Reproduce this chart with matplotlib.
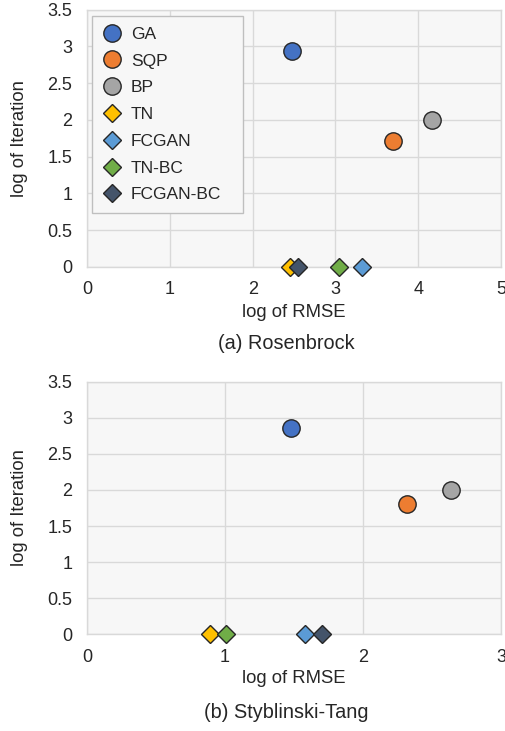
import matplotlib
matplotlib.use("Agg")
from matplotlib import pyplot as plt

plt.rcParams['font.family'] = ['Liberation Sans', 'DejaVu Sans']

methods = ['GA', 'SQP', 'BP', 'TN', 'FCGAN', 'TN-BC', 'FCGAN-BC']
markers = ['o', 'o', 'o', 'D', 'D', 'D', 'D']
colors = ['#4472C4', '#ED7D31', '#A5A5A5', '#FFC000', '#5B9BD5', '#70AD47', '#44546A']

# Rosenbrock
rosen_rmse = [2.47, 3.70, 4.17, 2.45, 3.32, 3.04, 2.55]
rosen_iter = [2.94, 1.71, 2.00, 0.0, 0.0, 0.0, 0.0]

# Styblinski-Tang
styb_rmse = [1.48, 2.32, 2.64, 0.89, 1.58, 1.01, 1.70]
styb_iter = [2.86, 1.80, 2.00, 0.0, 0.0, 0.0, 0.0]

yticks = [0, 0.5, 1, 1.5, 2, 2.5, 3, 3.5]
ytick_labels = ['0', '0.5', '1', '1.5', '2', '2.5', '3', '3.5']

TEXT = '#262626'
GRID = '#d9d9d9'


def style_axes(ax, xmax):
    ax.set_facecolor('#f7f7f7')
    ax.set_xlim(0, xmax)
    ax.set_ylim(0, 3.5)
    ax.set_xticks(range(xmax + 1))
    ax.set_yticks(yticks)
    ax.set_yticklabels(ytick_labels)
    ax.grid(True, color=GRID, linewidth=1.0)
    ax.set_axisbelow(True)
    for s in ax.spines.values():
        s.set_color(GRID)
        s.set_linewidth(1.0)
    ax.tick_params(length=0, labelsize=13, colors=TEXT, pad=10.5)
    ax.set_xlabel('log of RMSE', fontsize=13.3, color=TEXT, va='center')
    ax.set_ylabel('log of Iteration', fontsize=13.3, color=TEXT, va='center')
    ax.xaxis.set_label_coords(0.499, -0.176)
    ax.yaxis.set_label_coords(-0.164, 0.5)


def plot_points(ax, rmse, iters):
    for name, m, c, x, y in zip(methods, markers, colors, rmse, iters):
        size = 12.5 if m == 'o' else 9
        ax.plot(x, y, m, color=c, markersize=size, markeredgecolor='#262626',
                markeredgewidth=1.0, label=name, clip_on=False, zorder=3)


fig = plt.figure(figsize=(5.05, 7.31), dpi=100)
ax1 = fig.add_axes([0.1723, 0.635, 0.820, 0.352])
ax2 = fig.add_axes([0.1723, 0.1323, 0.820, 0.3455])

plot_points(ax1, rosen_rmse, rosen_iter)
style_axes(ax1, 5)
# legend box stretched to a fixed width with mode='expand'
leg = ax1.legend(loc='upper left', fontsize=12.5, frameon=True, fancybox=False,
                 edgecolor='#bfbfbf', facecolor='#f7f7f7', framealpha=1,
                 borderpad=0.6, labelspacing=0.67, handletextpad=0.55,
                 handlelength=1.1, borderaxespad=0, mode='expand',
                 bbox_to_anchor=(0.012, 0.0, 0.365, 0.974))
leg.get_frame().set_linewidth(1.0)
for t in leg.get_texts():
    t.set_color(TEXT)

plot_points(ax2, styb_rmse, styb_iter)
style_axes(ax2, 3)

fig.text(0.566, 1 - 343 / 731, '(a) Rosenbrock', ha='center', va='center',
         fontsize=14.3, color=TEXT)
fig.text(0.566, 1 - 713 / 731, '(b) Styblinski-Tang', ha='center', va='center',
         fontsize=14.3, color=TEXT)

fig.savefig('out.png', dpi=100, facecolor='white')
